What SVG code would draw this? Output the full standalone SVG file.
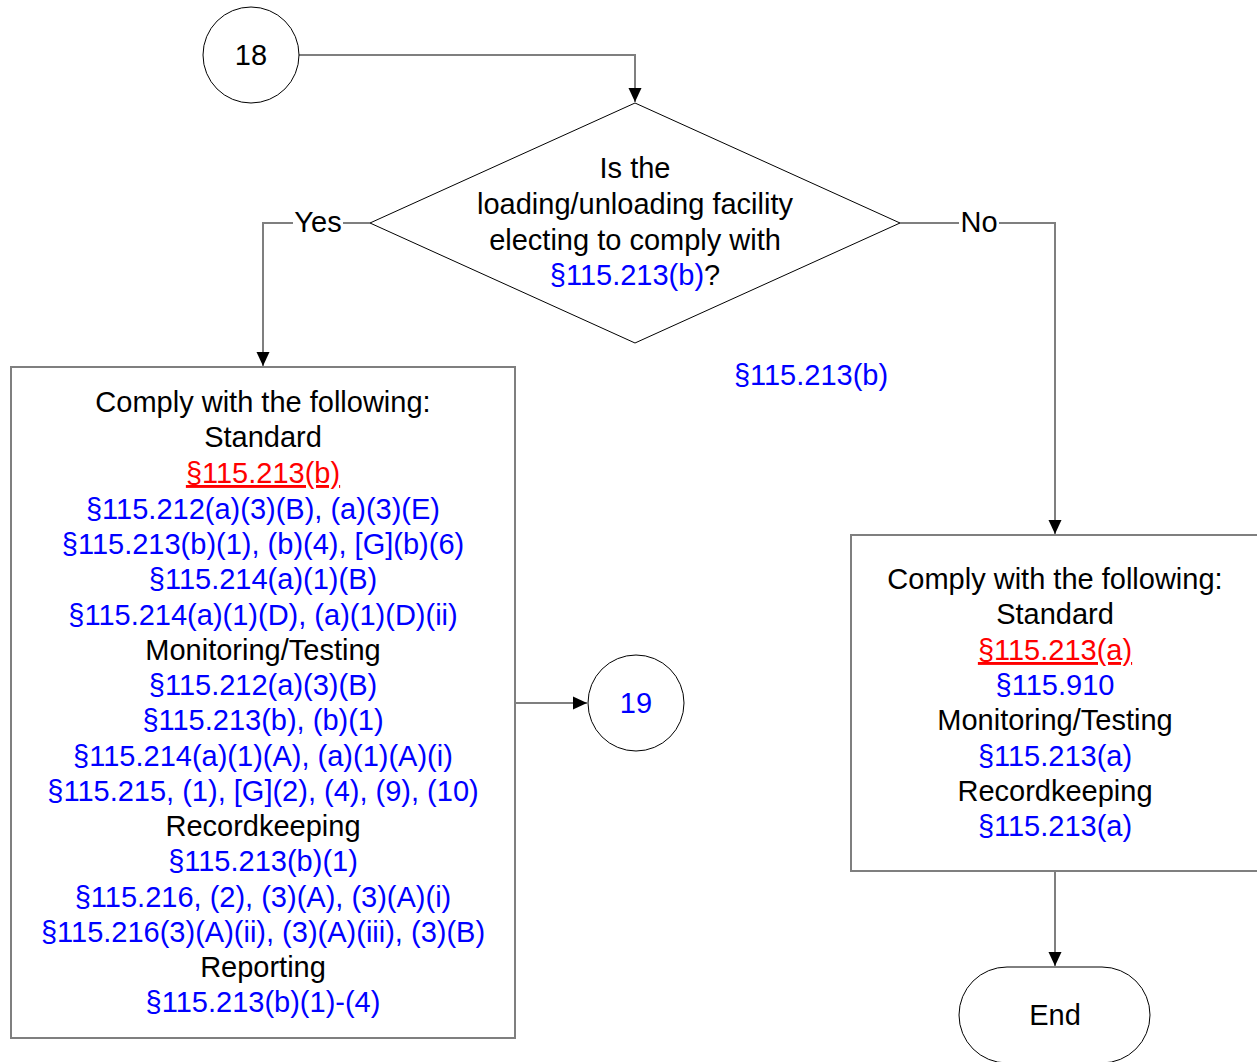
<svg xmlns="http://www.w3.org/2000/svg" width="1257" height="1062" viewBox="0 0 1257 1062">
<style>
text{font-family:"Liberation Sans",Arial,sans-serif;font-size:29px;text-anchor:middle;fill:#000}
.b{fill:#0000ff}
.r{fill:#ff0000;text-decoration:underline}
.conn{fill:none;stroke:#7f7f7f;stroke-width:2}
.shape{fill:#fff;stroke:#000;stroke-width:1}
.box{fill:#fff;stroke:#7f7f7f;stroke-width:2}
</style>
<defs>
<marker id="ah" markerWidth="14" markerHeight="14" refX="14" refY="7" orient="auto" markerUnits="userSpaceOnUse">
<path d="M0,0.5 L14,7 L0,13.5 Z" fill="#000"/>
</marker>
</defs>
<rect width="1257" height="1062" fill="#fff"/>
<g id="connectors">
<path class="conn" d="M299,55 H635 V102" marker-end="url(#ah)"/>
<path class="conn" d="M370,223 H263 V366" marker-end="url(#ah)"/>
<path class="conn" d="M900,223 H1055 V534" marker-end="url(#ah)"/>
<path class="conn" d="M515,703 H587" marker-end="url(#ah)"/>
<path class="conn" d="M1055,871 V966" marker-end="url(#ah)"/>
<rect x="293" y="207" width="50" height="30" fill="#fff"/>
<text x="318" y="232">Yes</text>
<rect x="959" y="207" width="40" height="30" fill="#fff"/>
<text x="979" y="232">No</text>
</g>
<g id="n18">
<circle class="shape" cx="251" cy="55" r="48"/>
<text x="251" y="65">18</text>
</g>
<g id="decision">
<polygon class="shape" points="635,103 900,223 635,343 370,223"/>
<text x="635" y="178">Is the</text>
<text x="635" y="214">loading/unloading facility</text>
<text x="635" y="250">electing to comply with</text>
<text x="635" y="285"><tspan class="b">§115.213(b)</tspan>?</text>
</g>
<g id="note">
<text class="b" x="811" y="385">§115.213(b)</text>
</g>
<g id="yesbox">
<rect class="box" x="11" y="367" width="504" height="671"/>
<text x="263" y="412">Comply with the following:</text>
<text x="263" y="447">Standard</text>
<text class="r" x="263" y="483">§115.213(b)</text>
<text class="b" x="263" y="519">§115.212(a)(3)(B), (a)(3)(E)</text>
<text class="b" x="263" y="554">§115.213(b)(1), (b)(4), [G](b)(6)</text>
<text class="b" x="263" y="589">§115.214(a)(1)(B)</text>
<text class="b" x="263" y="625">§115.214(a)(1)(D), (a)(1)(D)(ii)</text>
<text x="263" y="660">Monitoring/Testing</text>
<text class="b" x="263" y="695">§115.212(a)(3)(B)</text>
<text class="b" x="263" y="730">§115.213(b), (b)(1)</text>
<text class="b" x="263" y="766">§115.214(a)(1)(A), (a)(1)(A)(i)</text>
<text class="b" x="263" y="801">§115.215, (1), [G](2), (4), (9), (10)</text>
<text x="263" y="836">Recordkeeping</text>
<text class="b" x="263" y="871">§115.213(b)(1)</text>
<text class="b" x="263" y="907">§115.216, (2), (3)(A), (3)(A)(i)</text>
<text class="b" x="263" y="942">§115.216(3)(A)(ii), (3)(A)(iii), (3)(B)</text>
<text x="263" y="977">Reporting</text>
<text class="b" x="263" y="1012">§115.213(b)(1)-(4)</text>
</g>
<g id="n19">
<circle class="shape" cx="636" cy="703" r="48"/>
<text class="b" x="636" y="713">19</text>
</g>
<g id="nobox">
<rect class="box" x="851" y="535" width="408" height="336"/>
<text x="1055" y="589">Comply with the following:</text>
<text x="1055" y="624">Standard</text>
<text class="r" x="1055" y="660">§115.213(a)</text>
<text class="b" x="1055" y="695">§115.910</text>
<text x="1055" y="730">Monitoring/Testing</text>
<text class="b" x="1055" y="766">§115.213(a)</text>
<text x="1055" y="801">Recordkeeping</text>
<text class="b" x="1055" y="836">§115.213(a)</text>
</g>
<g id="end">
<rect class="shape" x="959" y="967" width="191" height="96" rx="48" ry="48"/>
<text x="1055" y="1025">End</text>
</g>
</svg>
